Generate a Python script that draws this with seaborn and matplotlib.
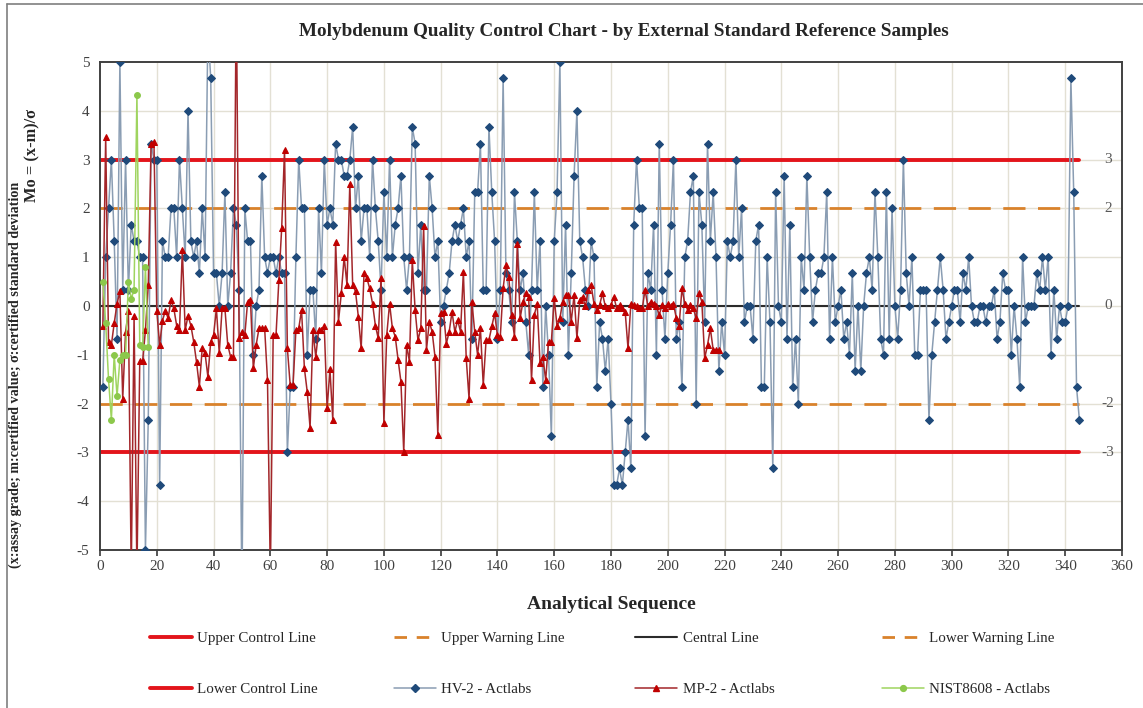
import numpy as np
import pandas as pd
import matplotlib
matplotlib.use("Agg")
import matplotlib.pyplot as plt
from matplotlib.lines import Line2D
import seaborn as sns

# ---------------- data ----------------
# standardised deviations Mo = (x - m) / sigma, one value per analysis
hv2_values = [
    -1.67, 1, 2, 3, 1.33, -0.67, 5, 0.33, 3, 0.33,
    1.67, 1.33, 1.33, 1, 1, -5, -2.33, 3.33, 3, 3,
    -3.67, 1.33, 1, 1, 2, 2, 1, 3, 2, 1,
    4, 1.33, 1, 1.33, 0.67, 2, 1, 5.67, 4.67, 0.67,
    0.67, 0, 0.67, 2.33, 0, 0.67, 2, 1.67, 0.33, -6,
    2, 1.33, 1.33, -1, 0, 0.33, 2.67, 1, 0.67, 1,
    1, 0.67, 1, 0.67, 0.67, -3, -1.67, -1.67, 1, 3,
    2, 2, -1, 0.33, 0.33, -0.67, 2, 0.67, 3, 1.67,
    2, 1.67, 3.33, 3, 3, 2.67, 2.67, 3, 3.67, 2,
    2.67, 1.33, 2, 2, 1, 3, 2, 1.33, 0.33, 2.33,
    1, 3, 1, 1.67, 2, 2.67, 1, 0.33, 1, 3.67,
    3.33, 0.67, 1.67, 0.33, 0.33, 2.67, 2, 1, 1.33, -0.33,
    0, 0.33, 0.67, 1.33, 1.67, 1.33, 1.67, 2, 1, 1.33,
    -0.67, 2.33, 2.33, 3.33, 0.33, 0.33, 3.67, 2.33, 1.33, -0.67,
    0.33, 4.67, 0.67, 0.33, -0.33, 2.33, 1.33, 0.33, 0.67, -0.33,
    -1, 0.33, 2.33, 0.33, 1.33, -1.67, 0, -1, -2.67, 1.33,
    2.33, 5, -0.33, 1.67, -1, 0.67, 2.67, 4, 1.33, 1,
    0.33, 0, 1.33, 1, -1.67, -0.33, -0.67, -1.33, -0.67, -2,
    -3.67, -3.67, -3.33, -3.67, -3, -2.33, -3.33, 1.67, 3, 2,
    2, -2.67, 0.67, 0.33, 1.67, -1, 3.33, 0.33, -0.67, 0.67,
    1.67, 3, -0.67, -0.33, -1.67, 1, 1.33, 2.33, 2.67, -2,
    2.33, 1.67, -0.33, 3.33, 1.33, 2.33, 1, -1.33, -0.33, -1,
    1.33, 1, 1.33, 3, 1, 2, -0.33, 0, 0, -0.67,
    1.33, 1.67, -1.67, -1.67, 1, -0.33, -3.33, 2.33, 0, -0.33,
    2.67, -0.67, 1.67, -1.67, -0.67, -2, 1, 0.33, 2.67, 1,
    -0.33, 0.33, 0.67, 0.67, 1, 2.33, -0.67, 1, -0.33, 0,
    0.33, -0.67, -0.33, -1, 0.67, -1.33, 0, -1.33, 0, 0.67,
    1, 0.33, 2.33, 1, -0.67, -1, 2.33, -0.67, 2, 0,
    -0.67, 0.33, 3, 0.67, 0, 1, -1, -1, 0.33, 0.33,
    0.33, -2.33, -1, -0.33, 0.33, 1, 0.33, -0.67, -0.33, 0,
    0.33, 0.33, -0.33, 0.67, 0.33, 1, 0, -0.33, -0.33, 0,
    0, -0.33, 0, 0, 0.33, -0.67, -0.33, 0.67, 0.33, 0.33,
    -1, 0, -0.67, -1.67, 1, -0.33, 0, 0, 0, 0.67,
    0.33, 1, 0.33, 1, -1, 0.33, -0.67, 0, -0.33, -0.33,
    0, 4.67, 2.33, -1.67, -2.33,
]

mp2_values = [
    -0.4, 3.47, -0.73, -0.8, -0.35, 0.05, 0.3, -1.9, -0.53, -0.1,
    -5.5, -0.2, -5.5, -1.13, -1.13, -0.5, 0.43, 3.33, 3.37, -0.1,
    -0.8, -0.3, -0.1, -0.25, 0.12, -0.05, -0.4, -0.5, 1.15, -0.5,
    -0.2, -0.4, -0.73, -1.15, -1.65, -0.87, -0.97, -1.45, -0.73, -0.6,
    -0.05, -0.97, -0.05, -0.05, -0.8, -1.04, -1.04, 6.5, -0.66, -0.53,
    -0.6, 0.09, 0.12, -1.28, -0.8, -0.46, -0.46, -0.46, -1.52, -5.5,
    -0.6, -0.6, 0.53, 1.6, 3.2, -0.87, -1.62, -1.62, -0.5, -0.46,
    -0.08, -1.28, -1.76, -2.5, -0.5, -1.04, -0.5, -0.5, -0.42, -2.1,
    -1.3, -2.34, 1.32, -0.32, 0.26, 1.01, 0.43, 2.51, 0.43, 0.3,
    -0.22, -0.87, 0.67, 0.57, 0.36, 0.05, -0.4, -0.66, 0.57, -2.4,
    -0.6, 0.05, -0.46, -0.63, -1.1, -1.55, -3.0, -0.8, -1.14, 0.94,
    -0.08, -0.7, -0.46, 1.63, -0.9, -0.32, -0.53, -1.04, -2.64, -0.15,
    -0.12, -0.77, -0.53, -0.12, -0.53, -0.29, -0.53, 0.7, -1.07, -1.9,
    0.09, -0.53, -1.0, -0.46, -1.62, -0.7, -0.7, -0.42, -0.15, -0.6,
    -0.63, 0.36, 0.84, 0.6, -0.18, -0.63, 1.28, -0.25, 0.09, 0.26,
    0.19, -1.52, -0.18, 0.05, -1.17, -1.04, -1.52, -0.73, -0.73, 0.16,
    -0.42, -0.25, 0.09, 0.23, 0.23, -0.32, 0.23, -0.66, 0.12, 0.19,
    -0.01, 0.33, 0.43, 0.05, -0.08, 0.02, 0.26, -0.01, -0.05, 0.02,
    0.19, -0.05, 0.02, -0.05, -0.12, -0.87, 0.05, 0.02, -0.01, -0.05,
    -0.05, 0.33, -0.01, 0.09, 0.05, -0.01, -0.18, 0.02, -0.05, 0.05,
    -0.01, 0.05, -0.25, -0.4, 0.36, 0.05, -0.08, 0.02, -0.05, -0.25,
    0.26, 0.09, -1.07, -0.8, -0.46, -0.9, -0.9, -0.9,
]

nist_values = [
    0.5, -0.35, -1.5, -2.33, -1.0, -1.85, -1.1, -1.0, -1.0, 0.5,
    0.15, 0.33, 4.33, -0.8, -0.85, 0.8, -0.85,
]

# reference lines (in units of sigma)
limit_names = ["Upper Control Line", "Upper Warning Line", "Central Line",
               "Lower Warning Line", "Lower Control Line"]
limit_values = [3, 2, 0, -2, -3]
limit_labels = ["3", "2", "0", "-2", "-3"]
limit_span = [0, 345]

series_names = ["HV-2 - Actlabs", "MP-2 - Actlabs", "NIST8608 - Actlabs"]

x_ticks = list(range(0, 361, 20))
y_ticks = list(range(-5, 6))

# ---------------- style ----------------
sns.set_theme(style="white")
plt.rcParams["font.family"] = ["Liberation Serif", "DejaVu Serif"]
plt.rcParams["axes.unicode_minus"] = False

fig = plt.figure(figsize=(11.43, 7.08), dpi=100)
ax = fig.add_axes([0.0875, 0.2232, 0.8941, 0.6892])

grid_col = "#e3e0d4"
ax.set_xlim(0, 360)
ax.set_ylim(-5, 5)
ax.set_xticks(x_ticks)
ax.set_yticks(y_ticks)
for v in x_ticks[1:-1]:
    ax.axvline(v, color=grid_col, lw=1.0, zorder=0)
for v in y_ticks[1:-1]:
    ax.axhline(v, color=grid_col, lw=1.0, zorder=0)

dash = (0, (8, 4.5))
limit_styles = {
    "Upper Control Line": dict(color="#e3141b", lw=2.8, ls="-"),
    "Lower Control Line": dict(color="#e3141b", lw=2.8, ls="-"),
    "Upper Warning Line": dict(color="#d9822b", lw=2.0, ls=dash),
    "Lower Warning Line": dict(color="#d9822b", lw=2.0, ls=dash),
    "Central Line": dict(color="#2b2b2b", lw=1.5, ls="-"),
}

handles = {}
for name, val, lab in zip(limit_names, limit_values, limit_labels):
    df = pd.DataFrame({"x": limit_span, "y": [val] * len(limit_span)})
    st = limit_styles[name]
    sns.lineplot(data=df, x="x", y="y", ax=ax, color=st["color"],
                 linewidth=st["lw"], linestyle=st["ls"], zorder=2)
    ax.text(limit_span[-1] + 10, val, lab, ha="center", va="center",
            fontsize=11, color="#595959")
    handles[name] = Line2D([], [], color=st["color"], lw=st["lw"],
                           ls=(0, (4.5, 3.5)) if st["ls"] == dash else "-")

series_styles = [
    dict(line="#8a9db3", mk="D", mfc="#1f4a7a", ms=3.6),
    dict(line="#a3262a", mk="^", mfc="#c00000", ms=4.6),
    dict(line="#9fd45f", mk="o", mfc="#8cc84b", ms=4.2),
]
for name, vals, st in zip(series_names, [hv2_values, mp2_values, nist_values], series_styles):
    df = pd.DataFrame({"seq": np.arange(1, len(vals) + 1), "mo": vals})
    sns.lineplot(data=df, x="seq", y="mo", ax=ax, color=st["line"], linewidth=1.1,
                 marker=st["mk"], markersize=st["ms"], markerfacecolor=st["mfc"],
                 markeredgecolor=st["mfc"], zorder=3)
    handles[name] = Line2D([], [], color=st["line"], lw=1.1, marker=st["mk"],
                           markersize=st["ms"], markerfacecolor=st["mfc"],
                           markeredgecolor=st["mfc"])

for s in ax.spines.values():
    s.set_color("#404040")
    s.set_linewidth(1.4)
ax.tick_params(axis="both", labelsize=11, colors="#404040", length=4,
               direction="out", bottom=True, left=False)
ax.tick_params(axis="x", pad=3)

ax.set_xlabel("Analytical Sequence", fontsize=14, fontweight="bold", labelpad=17)
ax.set_ylabel("")
fig.text(0.0285, 0.78, "Mo = (x-m)/σ", rotation=90, ha="center", va="center",
         fontsize=11.8, fontweight="bold")
fig.text(0.0135, 0.47, "(x:assay grade; m:certified value; σ:certified standard deviation",
         rotation=90, ha="center", va="center", fontsize=10.2, fontweight="bold")

fig.text(0.546, 0.955, "Molybdenum Quality Control Chart - by External Standard Reference Samples",
         ha="center", va="center", fontsize=13.8, fontweight="bold")

# legend: four evenly spaced columns of two entries each
legend_cols = [["Upper Control Line", "Lower Control Line"],
               ["Upper Warning Line", "HV-2 - Actlabs"],
               ["Central Line", "MP-2 - Actlabs"],
               ["Lower Warning Line", "NIST8608 - Actlabs"]]
col_left_px = [136, 380, 622, 868]
for names, left in zip(legend_cols, col_left_px):
    leg = fig.legend([handles[k] for k in names], names, loc="center left",
                     bbox_to_anchor=(left / 1143, 0.062), frameon=False, fontsize=10.8,
                     handlelength=2.8, handletextpad=0.35, labelspacing=2.5)

# chart-area frame (top and left edges fall inside the canvas)
fig.add_artist(Line2D([0.006, 1.0], [0.994, 0.994], transform=fig.transFigure,
                      color="#7f7f7f", lw=1.2))
fig.add_artist(Line2D([0.006, 0.006], [0.0, 0.994], transform=fig.transFigure,
                      color="#7f7f7f", lw=1.2))

fig.savefig("out.png", dpi=100)
